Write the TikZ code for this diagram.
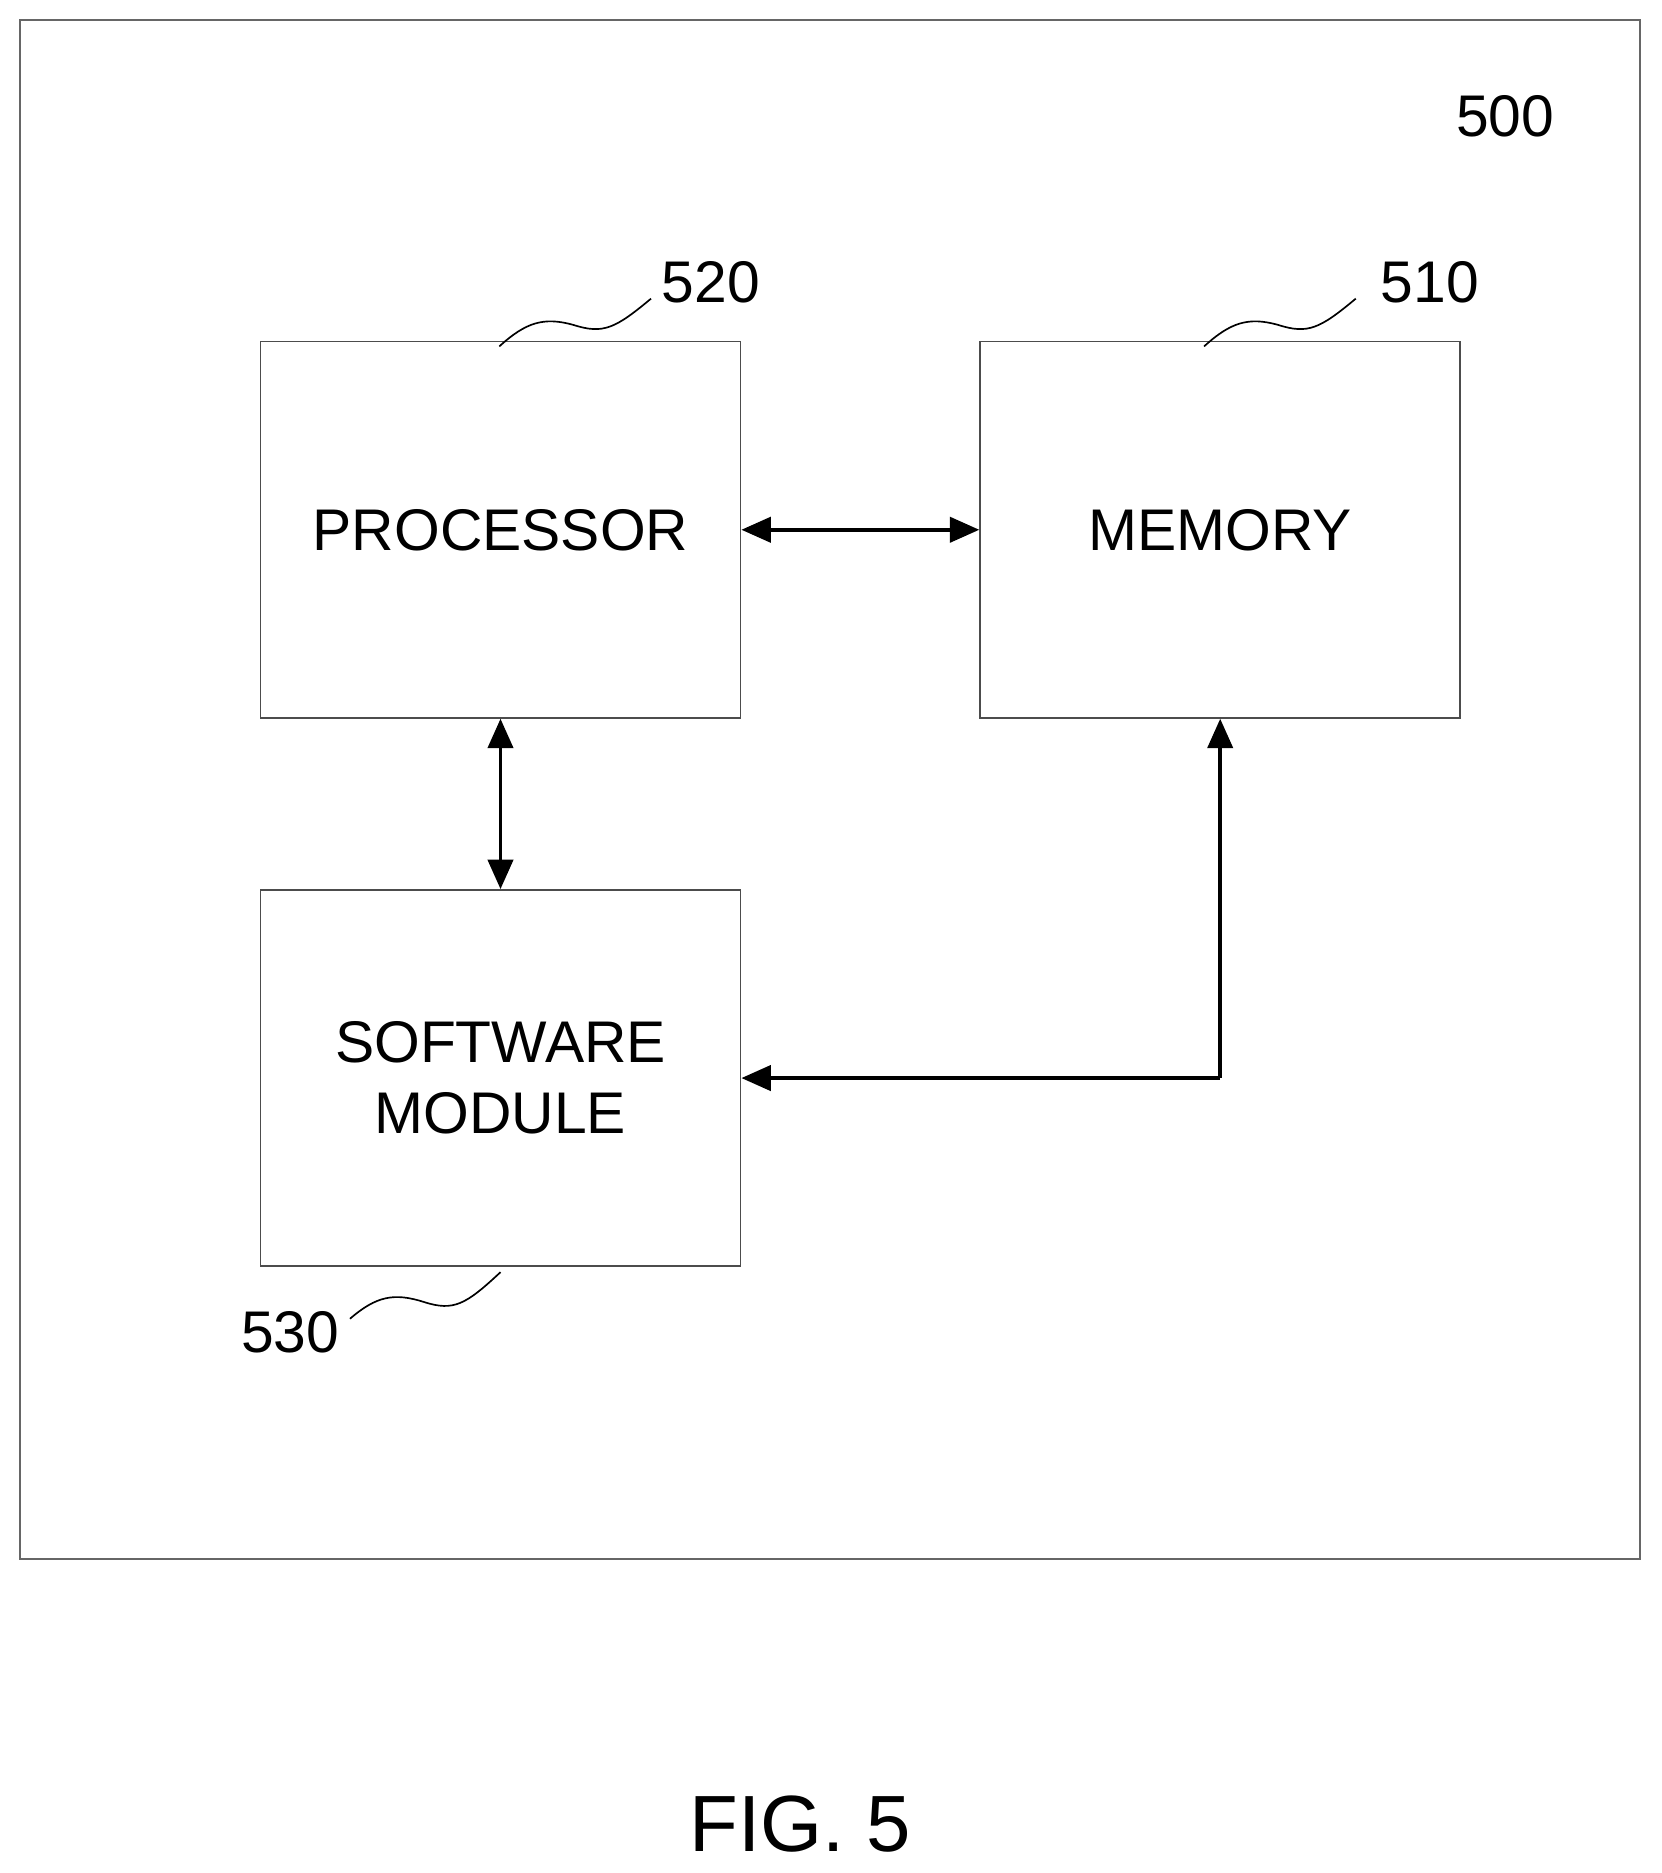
\documentclass[tikz,border=0pt]{standalone}
\usepackage{fontspec}
\setmainfont{Liberation Sans}
\usetikzlibrary{arrows.meta,positioning}
\tikzset{
  blk/.style={draw=black!70, line width=0.8pt, minimum width=402*0.02cm, minimum height=315*0.02cm, inner sep=0pt, align=center, font=\fontsize{28}{34}\selectfont},
  lbl/.style={font=\fontsize{28}{34}\selectfont},
  link/.style={line width=1.7pt, {Triangle[length=14pt,width=12pt]}-{Triangle[length=14pt,width=12pt]}},
  squig/.style={line width=0.8pt}
}
\begin{document}
\begin{tikzpicture}[x=0.02cm, y=-0.02cm]
    \useasboundingbox (0,0) rectangle (1391,1568);
    \draw[black!60, line width=0.8pt] (17,17) rectangle (1373,1305);
    \node[lbl] (n500) at (1260,97) {500};

    \node[blk] (proc) at (419,443.5) {PROCESSOR};
    \node[blk] (mem) at (1021.5,443.5) {MEMORY};
    \node[blk] (soft) at (419,902.5) {SOFTWARE\\MODULE};

    \node[lbl] (n520) at (595,236) {520};
    \node[lbl] (n510) at (1197,236) {510};
    \node[lbl] (n530) at (243,1115) {530};

    % reference squiggles
    \draw[squig] (418,290) .. controls (440,270) and (455,265) .. (480,272) .. controls (505,280) and (515,275) .. (545,250);
    \draw[squig] (1008,290) .. controls (1030,270) and (1045,265) .. (1070,272) .. controls (1095,280) and (1105,275) .. (1135,250);
    \draw[squig] (293,1104) .. controls (315,1085) and (330,1082) .. (355,1090) .. controls (380,1098) and (390,1092) .. (419,1065);

    \draw[link] (proc) -- (mem);
    \draw[link] (proc) -- (soft);
    \coordinate (bend) at (mem.south |- soft.east);
    \draw[line width=1.7pt, -{Triangle[length=14pt,width=12pt]}, shorten <=0pt] (bend) -- (soft.east);
    \draw[line width=1.7pt, -{Triangle[length=14pt,width=12pt]}] (bend) -- (mem.south);

    \node[font=\fontsize{38}{44}\selectfont] (fig) at (670,1527) {FIG. 5};
\end{tikzpicture}
\end{document}
